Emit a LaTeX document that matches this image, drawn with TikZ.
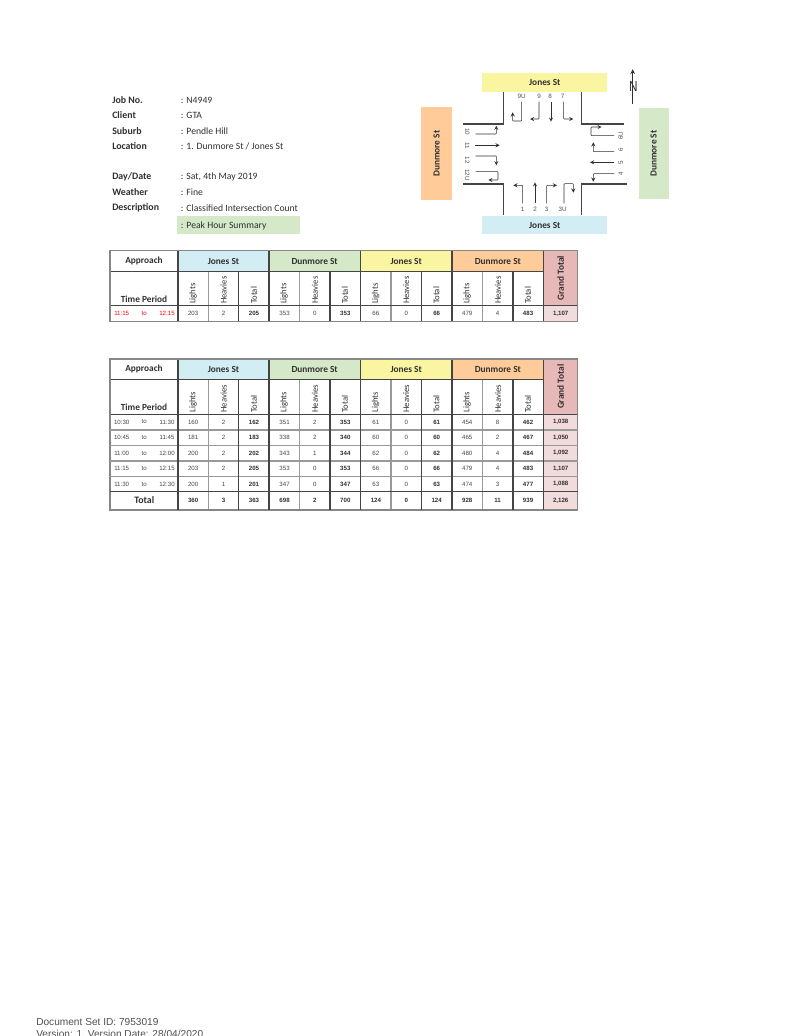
\documentclass[tikz,border=0pt]{standalone}
\usepackage{fontspec}
\setmainfont{Carlito}
\newfontfamily\cellfont{Liberation Sans}
\definecolor{jonesblue}{HTML}{D3EDF4}
\definecolor{dunmoregreen}{HTML}{D5E8C8}
\definecolor{jonesyellow}{HTML}{FAF5A0}
\definecolor{dunmoreorange}{HTML}{FFCC99}
\definecolor{grandred}{HTML}{E6B8B7}
\definecolor{grandpink}{HTML}{F2DCDB}
\definecolor{inktext}{HTML}{303030}
\definecolor{ruledark}{HTML}{454545}
\definecolor{rulegrey}{HTML}{999999}
\tikzset{
    infohead/.style={anchor=west,text=inktext,font=\fontsize{7.4}{8}\selectfont\bfseries},
    infotext/.style={anchor=west,text=inktext,font=\fontsize{7.25}{8}\selectfont},
    streetbox/.style={text=inktext,font=\fontsize{7}{8}\selectfont\bfseries},
    tablehead/.style={text=inktext,font=\fontsize{7}{8}\selectfont\bfseries},
    sidehead/.style={rotate=90,anchor=west,inner sep=0pt,text=inktext,font=\fontsize{6.5}{8}\selectfont},
    cell/.style={text=inktext!90,inner sep=0pt,font=\cellfont\fontsize{4.6}{6}\selectfont},
    cellbold/.style={text=inktext,inner sep=0pt,font=\cellfont\fontsize{4.6}{6}\selectfont\bfseries},
    movelabel/.style={text=inktext!85,inner sep=0pt,font=\cellfont\fontsize{4.7}{6}\selectfont},
    movearrow/.style={-stealth,line width=0.4pt,color=inktext,rounded corners=0.5pt},
    kerbline/.style={line width=1.1pt,color=ruledark},
    ruleheavy/.style={line width=0.9pt,color=ruledark},
    rulelight/.style={line width=0.9pt,color=rulegrey},
}
\begin{document}
\begin{tikzpicture}[x=0.75pt,y=-0.75pt]
    \useasboundingbox (0,0) rectangle (796,1036);

    % Job details %
    \fill[dunmoregreen] (177.3,215.7) rectangle (300,234.3);
    \foreach \infoid/\infoy/\infokey/\infoval in {job/100/Job No./N4949,client/115.3/Client/GTA,suburb/131/Suburb/Pendle Hill,location/146.5/Location/{1. Dunmore St / Jones St},date/177/{Day/Date}/{Sat, 4th May 2019},weather/192.5/Weather/Fine,desc/208/Description/Classified Intersection Count}
    {
        \node[infohead,inner sep=0pt] (key\infoid) at (112,\infoy) {\infokey};
        \node[infotext,inner sep=0pt] (val\infoid) at (180.7,\infoy) {: \infoval};
    }
    \node[infotext,inner sep=0pt] (valpeak) at (180.7,225.5) {: Peak Hour Summary};

    % Street names %
    \node[streetbox,fill=jonesyellow,minimum width=93.75pt,minimum height=13.8pt,inner sep=0pt] (north) at (544.8,82.5) {Jones St};
    \node[streetbox,fill=jonesblue,minimum width=93.75pt,minimum height=13.8pt,inner sep=0pt] (south) at (544.8,225.2) {Jones St};
    \node[streetbox,fill=dunmoreorange,rotate=90,minimum width=69.5pt,minimum height=22.8pt,inner sep=0pt] (west) at (436.5,153.7) {Dunmore St};
    \node[streetbox,fill=dunmoregreen,rotate=90,minimum width=68.7pt,minimum height=22.5pt,inner sep=0pt] (east) at (653.7,153.5) {Dunmore St};

    % Kerbs %
    \draw[kerbline] (463.3,124) -- (503.3,124) -- (503.3,91.7);
    \draw[kerbline] (581.7,91.7) -- (581.7,124) -- (624.3,124);
    \draw[kerbline] (463.3,184) -- (503.3,184) -- (503.3,215);
    \draw[kerbline] (581.7,215) -- (581.7,184) -- (626.7,184);

    % North arrow %
    \coordinate (ntail) at (632.7,104);
    \coordinate (nhead) at (632.7,69.3);
    \draw[-stealth,line width=0.6pt,color=inktext] (ntail) -- (nhead);
    \node[inner sep=0pt,text=inktext,xscale=0.8,font=\cellfont\fontsize{11}{12}\selectfont] (nletter) at (633.3,86.7) {N};

    % Movements %
    \foreach \moveid/\movex/\movey/\moverot in {9U/521.7/96.7/0,9/539/96.7/0,8/550/96.7/0,7/562.7/96.7/0,
        1/522.7/209/0,2/535/209/0,3/546.7/209/0,3U/562.7/209/0,
        6U/620.7/135.7/90,6/620.7/150/90,5/620.7/162.3/90,4/620.7/173.7/90,
        10/467.3/131.7/-90,11/467.3/145.7/-90,12/467.3/160/-90,12U/467.3/175/-90}
    {
        \node[movelabel,rotate=\moverot] (lab\moveid) at (\movex,\movey) {\moveid};
    }
    \draw[movearrow] (lab9U) ++(0,5) -- ++(0,19.3) -- ++(-9,0) -- ++(0,-8.7);
    \draw[movearrow] (lab9) ++(0,5) -- ++(0,17.3) -- ++(-9,0);
    \draw[movearrow] (lab8) ++(1,5) -- ++(0,20);
    \draw[movearrow] (lab7) ++(1,5) -- ++(0,17.3) -- ++(9.7,0);

    \draw[movearrow] (lab1) ++(0,-5.7) -- ++(0,-18) -- ++(-9.4,0);
    \draw[movearrow] (lab2) ++(0,-5.7) -- ++(0,-21);
    \draw[movearrow] (lab3) ++(0,-5.7) -- ++(0,-18) -- ++(10.3,0);
    \draw[movearrow] (lab3U) ++(1.3,-5.7) -- ++(0,-19.6) -- ++(9.3,0) -- ++(0,9);

    \draw[movearrow] (lab6U) ++(-6.7,0) -- ++(-23,0) -- ++(0,-8.7) -- ++(10.7,0);
    \draw[movearrow] (lab6) ++(-6.7,1.7) -- ++(-20.7,0) -- ++(0,-9.4);
    \draw[movearrow] (lab5) ++(-6.7,0) -- ++(-24,0);
    \draw[movearrow] (lab4) ++(-6.7,0) -- ++(-20.7,0) -- ++(0,8);

    \draw[movearrow] (lab10) ++(8.4,2.3) -- ++(20.6,0) -- ++(0,-8.3);
    \draw[movearrow] (lab11) ++(7.7,-0.4) -- ++(24.7,0);
    \draw[movearrow] (lab12) ++(8.4,-4) -- ++(20.6,0) -- ++(0,9.3);
    \draw[movearrow] (lab12U) ++(8.4,-3.3) -- ++(22.3,0) -- ++(0,8.3) -- ++(-9.7,0);

    % Table frames and headers %
    \foreach \tabid/\tabtop/\headbot/\subbot/\tabbot/\timey in {a/250.7/271.3/305.7/321.3/299,b/359/379.7/414.3/510/407.3}
    {
        \fill[jonesblue] (178,\tabtop) rectangle (269,\headbot);
        \fill[dunmoregreen] (269,\tabtop) rectangle (360.3,\headbot);
        \fill[jonesyellow] (360.3,\tabtop) rectangle (452,\headbot);
        \fill[dunmoreorange] (452,\tabtop) rectangle (543.7,\headbot);
        \fill[grandred] (543.7,\tabtop) rectangle (577.7,\subbot);
        \fill[grandpink] (543.7,\subbot) rectangle (577.7,\tabbot);

        % Rules %
        \foreach \rulex in {208.4,299.7,391,482.7}
            \draw[rulelight] (\rulex,\headbot) -- (\rulex,\tabbot);
        \foreach \rulex in {238.7,330,421.7,513}
            \draw[ruleheavy] (\rulex,\headbot) -- (\rulex,\tabbot);
        \foreach \rulex in {178,269,360.3,452,543.7}
            \draw[ruleheavy] (\rulex,\tabtop) -- (\rulex,\tabbot);
        \draw[ruleheavy] (110,\headbot) -- (543.7,\headbot);
        \draw[ruleheavy] (110,\subbot) -- (577.7,\subbot);
        \draw[line width=0.9pt,color=ruledark!65] (110,\tabtop) rectangle (577.7,\tabbot);

        \path (110,\tabtop) -- node[tablehead] (\tabid approach) {Approach} (178,\headbot);
        \path (178,\tabtop) -- node[tablehead] (\tabid jonesa) {Jones St} (269,\headbot);
        \path (269,\tabtop) -- node[tablehead] (\tabid dunmorea) {Dunmore St} (360.3,\headbot);
        \path (360.3,\tabtop) -- node[tablehead] (\tabid jonesb) {Jones St} (452,\headbot);
        \path (452,\tabtop) -- node[tablehead] (\tabid dunmoreb) {Dunmore St} (543.7,\headbot);
        \path (543.7,\tabtop) -- node[tablehead,rotate=90] (\tabid grand) {Grand Total} (577.7,\subbot);
        \node[tablehead] (\tabid time) at (144,\timey) {Time Period};
        \foreach \colx [count=\g] in {193,284.2,375.6,467.2}
        {
            \node[sidehead] (\tabid lights\g) at (\colx,\subbot-1.5) {Lights};
            \node[sidehead] (\tabid heavies\g) at (\colx+30.6,\subbot-1.5) {Heavies};
            \node[sidehead] (\tabid total\g) at (\colx+60.8,\subbot-1.5) {Total};
        }
    }

    % Row rules, second table %
    \foreach \ruley in {430,445.7,461,476.7}
        \draw[line width=1pt,color=rulegrey] (110,\ruley) -- (577.7,\ruley);
    \draw[ruleheavy] (110,491.7) -- (577.7,491.7);
    \foreach \rulex in {178,238.7,269,330,360.3,421.7,452,513,543.7}
        \draw[ruleheavy] (\rulex,414.3) -- (\rulex,510);

    % Counts %
    \foreach \rowid/\rowy/\rowfrom/\rowto/\rowgrand/\rowdata in {
        a1/313.5/11:15/12:15/{1,107}/{203/2/205,353/0/353,66/0/66,479/4/483},
        b1/422/10:30/11:30/{1,038}/{160/2/162,351/2/353,61/0/61,454/8/462},
        b2/437.8/10:45/11:45/{1,050}/{181/2/183,338/2/340,60/0/60,465/2/467},
        b3/453.3/11:00/12:00/{1,092}/{200/2/202,343/1/344,62/0/62,480/4/484},
        b4/468.8/11:15/12:15/{1,107}/{203/2/205,353/0/353,66/0/66,479/4/483},
        b5/484.2/11:30/12:30/{1,088}/{200/1/201,347/0/347,63/0/63,474/3/477}}
    {
        \ifnum\pdfstrcmp{\rowid}{a1}=0 \colorlet{timeink}{red}\else \colorlet{timeink}{inktext!90}\fi
        \node[cell,text=timeink] (\rowid from) at (121.7,\rowy) {\rowfrom};
        \node[cell,text=timeink] (\rowid to) at (144.3,\rowy) {to};
        \node[cell,text=timeink] (\rowid till) at (167,\rowy) {\rowto};
        \foreach \lgt/\hvy/\tot [count=\g] in \rowdata
        {
            \node[cell] (\rowid lgt\g) at (193.2+91.35*\g-91.35,\rowy) {\lgt};
            \node[cell] (\rowid hvy\g) at (223.6+91.35*\g-91.35,\rowy) {\hvy};
            \node[cellbold] (\rowid tot\g) at (254+91.35*\g-91.35,\rowy) {\tot};
        }
        \node[cellbold] (\rowid grand) at (560.7,\rowy) {\rowgrand};
    }

    % Total row %
    \node[tablehead,font=\fontsize{7.4}{8}\selectfont\bfseries] (sumlabel) at (144.3,500.3) {Total};
    \foreach \lgt/\hvy/\tot [count=\g] in {360/3/363,698/2/700,124/0/124,928/11/939}
    {
        \node[cellbold] (sumlgt\g) at (193.2+91.35*\g-91.35,500.8) {\lgt};
        \node[cellbold] (sumhvy\g) at (223.6+91.35*\g-91.35,500.8) {\hvy};
        \node[cellbold] (sumtot\g) at (254+91.35*\g-91.35,500.8) {\tot};
    }
    \node[cellbold] (sumgrand) at (560.7,500.8) {2,126};

    % Footer %
    \node[anchor=west,inner sep=0pt,text=inktext!85,font=\cellfont\fontsize{7.6}{9}\selectfont] (docset) at (36,1022.3) {Document Set ID: 7953019};
    \node[anchor=west,inner sep=0pt,text=inktext!85,font=\cellfont\fontsize{7.6}{9}\selectfont] (docver) at (36,1034.6) {Version: 1, Version Date: 28/04/2020};
\end{tikzpicture}
\end{document}
